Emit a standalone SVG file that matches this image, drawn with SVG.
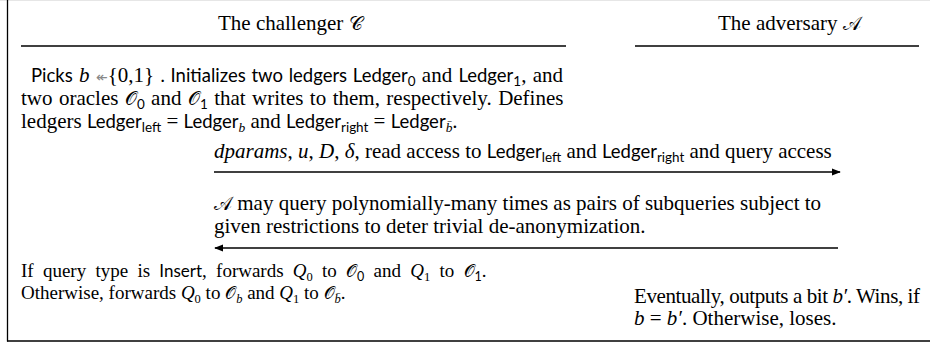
<svg xmlns="http://www.w3.org/2000/svg" width="930" height="345" viewBox="0 0 930 345">
<style>
.s{font-family:"Liberation Serif","Times New Roman",serif;font-size:21px;fill:#000}
.c{font-family:Lato,"Noto Sans",sans-serif;font-size:18.5px}
.m{font-family:"Liberation Serif",serif;font-style:italic}
.cal{font-family:"DejaVu Serif","DejaVu Sans","Noto Sans",serif;font-style:normal;font-size:0.9em}
.sub{font-size:0.64em}
.small{font-size:19px}
.small .c{font-size:17px}
.small .sub{font-size:12.5px}
.rule{stroke:#000;stroke-width:1.4;fill:none}
</style>
<defs>
<marker id="ah" viewBox="0 0 10 10" refX="9" refY="5" markerWidth="9" markerHeight="9" markerUnits="userSpaceOnUse" orient="auto-start-reverse">
<path d="M0,1 L10,5 L0,9 z" fill="#000"/>
</marker>
</defs>
<rect width="930" height="345" fill="#fff"/>
<g id="frame">
<line x1="0" y1="0.5" x2="930" y2="0.5" stroke="#e6e6e6" stroke-width="1"/>
<line x1="7.5" y1="0" x2="7.5" y2="341.5" stroke="#000" stroke-width="1.3"/>
<line x1="7" y1="341" x2="930" y2="341" stroke="#000" stroke-width="1.3"/>
</g>
<g id="challenger-header">
<text class="s" x="218" y="30">The challenger <tspan class="cal" font-style="italic">𝒞</tspan></text>
<line class="rule" x1="21" y1="46" x2="566" y2="46"/>
</g>
<g id="adversary-header">
<text class="s" x="718" y="30">The adversary <tspan class="cal" font-style="italic">𝒜</tspan></text>
<line class="rule" x1="635" y1="46" x2="919" y2="46"/>
</g>
<g id="challenger-setup">
<text class="s" x="31" y="82" word-spacing="1"><tspan class="c">Picks</tspan>  <tspan class="m">b</tspan> <tspan fill="#888" font-size="14">↞</tspan>{0,1} <tspan class="c">. Initializes two ledgers Ledger</tspan><tspan class="c sub" dy="4">0</tspan><tspan dy="-4"> and </tspan><tspan class="c">Ledger</tspan><tspan class="c sub" dy="4">1</tspan><tspan dy="-4">, and</tspan></text>
<text class="s" x="21" y="105" word-spacing="1.2">two oracles <tspan class="cal">𝒪</tspan><tspan class="c sub" dy="4">0</tspan><tspan dy="-4"> and </tspan><tspan class="cal">𝒪</tspan><tspan class="c sub" dy="4">1</tspan><tspan dy="-4"> that writes to them, respectively. Defines</tspan></text>
<text class="s" x="21" y="128">ledgers <tspan class="c">Ledger</tspan><tspan class="c sub" dy="4">left</tspan><tspan dy="-4"> = </tspan><tspan class="c">Ledger</tspan><tspan class="m sub" dy="4">b</tspan><tspan dy="-4">    and </tspan><tspan class="c">Ledger</tspan><tspan class="c sub" dy="4">right</tspan><tspan dy="-4"> = </tspan><tspan class="c">Ledger</tspan><tspan class="m sub" dy="4">b̄</tspan><tspan dy="-4">.</tspan></text>
</g>
<g id="msg-params">
<text class="s" x="214" y="158"><tspan class="m">dparams</tspan>, <tspan class="m">u</tspan>, <tspan class="m">D</tspan>, <tspan class="m">δ</tspan>, read access to <tspan class="c">Ledger</tspan><tspan class="c sub" dy="4">left</tspan><tspan dy="-4"> and </tspan><tspan class="c">Ledger</tspan><tspan class="c sub" dy="4">right</tspan><tspan dy="-4"> and query access</tspan></text>
</g>
<g id="msg-queries">
<text class="s" x="214" y="210"><tspan class="cal" font-style="italic">𝒜</tspan> may query polynomially-many times as pairs of subqueries subject to</text>
<text class="s" x="214" y="233">given restrictions to deter trivial de-anonymization.</text>
</g>
<g id="challenger-forward">
<text class="s small" x="21" y="277" word-spacing="4.5">If query type is <tspan class="c">Insert</tspan>, forwards <tspan class="m">Q</tspan><tspan class="sub" dy="4">0</tspan><tspan dy="-4"> to </tspan><tspan class="cal">𝒪</tspan><tspan class="c sub" dy="4">0</tspan><tspan dy="-4"> and </tspan><tspan class="m">Q</tspan><tspan class="sub" dy="4">1</tspan><tspan dy="-4"> to </tspan><tspan class="cal">𝒪</tspan><tspan class="c sub" dy="4">1</tspan><tspan dy="-4">.</tspan></text>
<text class="s small" x="21" y="299">Otherwise, forwards <tspan class="m">Q</tspan><tspan class="sub" dy="4">0</tspan><tspan dy="-4"> to </tspan><tspan class="cal">𝒪</tspan><tspan class="m sub" dy="4">b</tspan><tspan dy="-4"> and </tspan><tspan class="m">Q</tspan><tspan class="sub" dy="4">1</tspan><tspan dy="-4"> to </tspan><tspan class="cal">𝒪</tspan><tspan class="m sub" dy="4">b̄</tspan><tspan dy="-4">.</tspan></text>
</g>
<g id="adversary-output">
<text class="s" x="634" y="303" font-size="19.2" textLength="286" lengthAdjust="spacing">Eventually, outputs a bit <tspan class="m">b′</tspan>. Wins, if</text>
<text class="s" x="634" y="325" font-size="19.7"><tspan class="m">b</tspan> = <tspan class="m">b′</tspan>. Otherwise, loses.</text>
</g>
<g id="connectors">
<line class="rule" x1="214" y1="172" x2="840" y2="172" marker-end="url(#ah)"/>
<line class="rule" x1="838" y1="248" x2="215" y2="248" marker-end="url(#ah)"/>
</g>
</svg>
